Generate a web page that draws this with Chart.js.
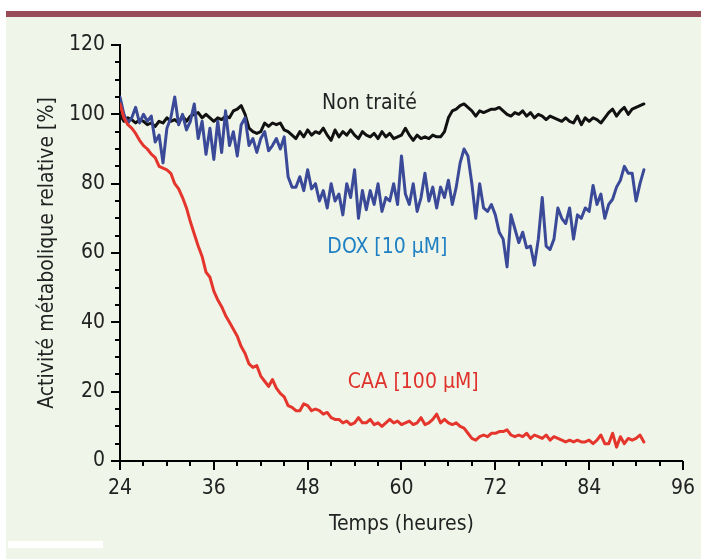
<!DOCTYPE html>
<html>
<head>
<meta charset="utf-8">
<script src="https://cdn.jsdelivr.net/npm/chart.js@4.4.1/dist/chart.umd.min.js"></script>
<style>
  html, body { margin: 0; padding: 0; background: #ffffff; }
  #wrap { position: relative; width: 701px; height: 559px; }
  canvas { display: block; }
</style>
</head>
<body>
<div id="wrap"><canvas id="c" width="701" height="559"></canvas></div>
<script>
// ---- Data (time in hours, sampled every 0.5 h from 24 h) ----
const T_START = 24;
const T_STEP = 0.5;

const nonTraite = [
  100, 98, 99, 98.5, 97.5, 98.5, 98, 97, 97.5, 96.5,
  98, 97.5, 99, 98, 98.5, 97.5, 99.5, 98, 99.5, 100,
  100.5, 99, 100, 99, 98, 99, 98.5, 99.5, 99, 101,
  101.5, 102.5, 100, 96, 95, 94.5, 95, 97.5, 96.5, 97.5,
  97, 97.5, 95.5, 95, 94, 93, 95, 93.5, 95.5, 94,
  95, 94.5, 96, 94, 92.5, 95.5, 93.5, 95, 94, 95.5,
  94, 93, 95, 94, 93.5, 94.5, 93, 95, 93.5, 94.5,
  93, 93.5, 94, 96, 94, 92.5, 94, 93, 93.5, 93,
  94, 93.5, 93.5, 95, 99, 101, 101.5, 102.5, 103, 102,
  101, 99.5, 101, 100.5, 101, 101.5, 101.5, 102, 101, 100,
  99.5, 100.5, 100, 101, 99.5, 100.5, 99, 100, 99.5, 98.5,
  99.5, 99, 98.5, 98, 99, 98, 97.5, 99.5, 97, 99,
  98, 99, 98.5, 97.5, 99, 100.5, 101.5, 99.5, 101, 102,
  100, 101.5, 102, 102.5, 103
];

const dox = [
  105, 100, 97.5, 99, 102, 97.5, 100, 98, 99.5, 92,
  94, 86, 96, 99, 105, 97, 100, 95.5, 98, 103,
  93, 98, 88.5, 96, 87, 98, 89, 101, 91, 95,
  88, 97, 99, 91, 93, 89, 93, 95, 89.5, 91,
  93, 90, 93.5, 82, 79, 79, 82, 78, 84, 78.5,
  80, 75, 78, 73, 80, 75, 77, 71, 80, 76,
  84, 70, 78, 72.5, 78, 74, 80, 72, 76, 75,
  80, 74, 88, 77, 74, 80, 72, 76, 83, 75,
  79, 73, 79, 76, 81, 74, 79, 86, 90, 88,
  80, 70, 80, 73, 72, 74, 71, 66, 64, 56,
  71, 67, 63, 66, 61.5, 62, 56.5, 64, 76, 62,
  61, 64, 73, 70, 68.5, 73, 64, 71, 70, 73,
  72, 79.5, 74, 77, 70, 74, 75.5, 79, 81, 85,
  83, 83, 75, 80, 84
];

const caa = [
  103, 99, 97, 96, 94.5, 92.5, 91, 90, 88.5, 87.5,
  85, 84.5, 84, 83, 80, 78.5, 76, 73, 69, 65.5,
  62, 59, 54.5, 53, 49, 46.5, 44.5, 42, 40, 38,
  36, 33, 31, 28, 27, 27.5, 24.5, 23, 21.5, 23.5,
  21, 19.5, 18.5, 16, 15.5, 14.5, 14.5, 16.5, 16, 14.5,
  15, 14.5, 13.5, 14, 12.5, 12, 12, 11, 11.5, 10.5,
  11, 12.5, 11, 11, 12, 10.5, 11, 10, 11, 12,
  11, 11.5, 10.5, 11, 11.5, 10.5, 11, 12.5, 10.5, 11,
  12, 13.5, 11, 12, 11, 10.5, 11, 10, 9.5, 8,
  6.5, 6, 7, 7.5, 7, 8, 8, 8.5, 8.5, 9,
  7.5, 7, 7.5, 7, 8, 6.5, 7.5, 7, 6.5, 7.5,
  6, 7, 6.5, 6, 5.5, 6, 5.5, 6, 5.5, 5.5,
  6, 5, 6, 7.5, 5, 5, 8, 4, 7, 5,
  6.5, 6, 6.5, 7.5, 5.5
];

const xTickValues = [24, 36, 48, 60, 72, 84, 96];
const yTickValues = [0, 20, 40, 60, 80, 100, 120];

const seriesNames = ['Non traité', 'DOX [10 μM]', 'CAA [100 μM]'];
const seriesColors = ['#111111', '#3b4a98', '#e5362e'];
const labelColors = ['#222222', '#1f80c4', '#e0322c'];
// label anchor points in data units (hours, %)
const labelAnchors = [[55.9, 103], [58.2, 61.7], [61.5, 22.5]];

const hours = nonTraite.map((_, i) => T_START + i * T_STEP);
const toPts = arr => arr.map((v, i) => ({ x: hours[i], y: v }));

const FONT = '"Liberation Sans Narrow", "DejaVu Sans Condensed", "Open Sans", sans-serif';

const bgPlugin = {
  id: 'bg',
  beforeDraw(chart) {
    const ctx = chart.ctx;
    ctx.save();
    ctx.fillStyle = '#ffffff';
    ctx.fillRect(0, 0, chart.width, chart.height);
    ctx.fillStyle = '#eff5e8';
    ctx.fillRect(6, 16, chart.width - 6, chart.height - 16);
    ctx.fillStyle = '#984a56';
    ctx.fillRect(6, 11, chart.width - 6, 6);
    ctx.fillStyle = '#ffffff';
    ctx.fillRect(8, 541, 95, 7);
    ctx.restore();
  }
};

const ticksPlugin = {
  id: 'tickmarks',
  afterDraw(chart) {
    const ctx = chart.ctx;
    const xs = chart.scales.x, ys = chart.scales.y;
    const ca = chart.chartArea;
    ctx.save();
    ctx.strokeStyle = '#000';
    ctx.lineWidth = 2;
    ctx.beginPath();
    for (let h = 24; h <= 96; h += 3) {
      const px = Math.round(xs.getPixelForValue(h));
      const len = (h % 12 === 0) ? 9 : 5;
      ctx.moveTo(px, ca.bottom);
      ctx.lineTo(px, ca.bottom + len);
    }
    for (let v = 0; v <= 120; v += 5) {
      const py = Math.round(ys.getPixelForValue(v));
      const len = (v % 20 === 0) ? 9 : 5;
      ctx.moveTo(ca.left, py);
      ctx.lineTo(ca.left - len, py);
    }
    ctx.stroke();
    ctx.restore();
  }
};

const labelsPlugin = {
  id: 'serieslabels',
  afterDatasetsDraw(chart) {
    const ctx = chart.ctx;
    const xs = chart.scales.x, ys = chart.scales.y;
    ctx.save();
    ctx.font = '21px ' + FONT;
    ctx.textAlign = 'center';
    ctx.textBaseline = 'middle';
    seriesNames.forEach((name, i) => {
      ctx.fillStyle = labelColors[i];
      ctx.fillText(name, xs.getPixelForValue(labelAnchors[i][0]), ys.getPixelForValue(labelAnchors[i][1]));
    });
    ctx.restore();
  }
};

new Chart(document.getElementById('c'), {
  type: 'line',
  data: {
    datasets: [
      { label: seriesNames[0], data: toPts(nonTraite), borderColor: seriesColors[0], borderWidth: 3, order: 3 },
      { label: seriesNames[1], data: toPts(dox), borderColor: seriesColors[1], borderWidth: 3, order: 2 },
      { label: seriesNames[2], data: toPts(caa), borderColor: seriesColors[2], borderWidth: 3, order: 1 }
    ]
  },
  options: {
    responsive: false,
    animation: false,
    devicePixelRatio: 1,
    elements: {
      point: { radius: 0 },
      line: { tension: 0, borderJoinStyle: 'round', borderCapStyle: 'round' }
    },
    layout: { padding: { top: 45, right: 16, left: 0, bottom: 0 } },
    plugins: { legend: { display: false }, tooltip: { enabled: false } },
    scales: {
      x: {
        type: 'linear',
        min: 24, max: 96,
        afterBuildTicks: s => { s.ticks = xTickValues.map(v => ({ value: v })); },
        afterFit: s => { s.height = 98; },
        grid: { display: true, drawOnChartArea: false, drawTicks: true, tickLength: 9, color: 'rgba(0,0,0,0)' },
        border: { display: true, color: '#000', width: 2 },
        ticks: { color: '#222', font: { family: FONT, size: 21 }, padding: 6, maxRotation: 0, autoSkip: false },
        title: { display: true, text: 'Temps (heures)', color: '#222', font: { family: FONT, size: 21 }, padding: { top: 0, bottom: 22 } }
      },
      y: {
        type: 'linear',
        min: 0, max: 120,
        afterBuildTicks: s => { s.ticks = yTickValues.map(v => ({ value: v })); },
        afterFit: s => { s.width = 120; },
        grid: { display: true, drawOnChartArea: false, drawTicks: true, tickLength: 9, color: 'rgba(0,0,0,0)' },
        border: { display: true, color: '#000', width: 2 },
        ticks: { color: '#222', font: { family: FONT, size: 21 }, padding: 6, autoSkip: false },
        title: { display: true, text: 'Activité métabolique relative [%]', color: '#222', font: { family: FONT, size: 21 }, padding: { top: 35, bottom: 0 } }
      }
    }
  },
  plugins: [bgPlugin, ticksPlugin, labelsPlugin]
});
</script>
</body>
</html>
